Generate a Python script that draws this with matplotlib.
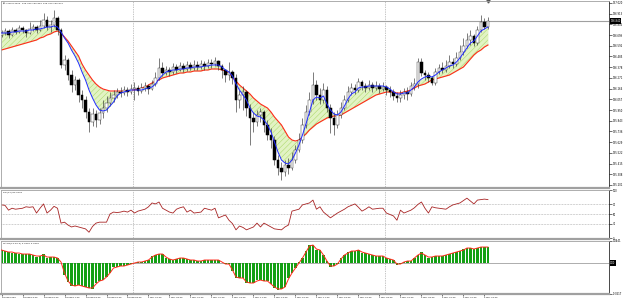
import numpy as np
import pandas as pd
import matplotlib
matplotlib.use("Agg")
import matplotlib.pyplot as plt
from matplotlib.transforms import blended_transform_factory

## USDJPY 20-minute chart with two MAs, RSI(14) and MACD(12,26,9)
symbol = "USDJPY,M20"
start = "2023-02-28 11:20"

opens = [136.70,136.72,136.74,136.70,136.75,136.73,136.77,136.75,136.72,136.76,
         136.78,136.75,136.79,136.85,136.78,136.80,136.87,136.75,136.40,136.45,
         136.30,136.20,136.25,136.10,136.05,135.93,135.83,135.91,135.85,135.92,
         135.97,136.02,136.07,136.10,136.13,136.12,136.15,136.13,136.16,136.17,
         136.14,136.17,136.19,136.16,136.21,136.27,136.37,136.32,136.35,136.33,
         136.38,136.35,136.39,136.36,136.40,136.37,136.40,136.38,136.41,136.39,
         136.42,136.41,136.44,136.39,136.35,136.30,136.33,136.27,136.05,136.10,
         136.13,135.97,135.87,135.83,135.90,135.93,135.80,135.70,135.65,135.45,
         135.37,135.33,135.40,135.37,135.45,135.55,135.65,135.80,135.93,136.05,
         136.20,136.10,136.05,136.15,135.97,135.87,135.80,135.90,135.97,136.05,
         136.13,136.17,136.15,136.23,136.19,136.17,136.20,136.17,136.19,136.16,
         136.18,136.15,136.13,136.09,136.07,136.10,136.13,136.11,136.19,136.21,
         136.43,136.32,136.30,136.27,136.22,136.33,136.37,136.35,136.39,136.43,
         136.41,136.47,136.53,136.59,136.65,136.69,136.62,136.75,136.83,136.78]
highs = [136.75,136.77,136.76,136.78,136.77,136.80,136.79,136.76,136.83,136.81,
         136.80,136.85,136.92,136.89,136.85,136.95,136.89,136.77,136.50,136.47,
         136.35,136.29,136.27,136.15,136.09,135.97,135.97,135.95,135.97,136.05,
         136.09,136.13,136.15,136.17,136.18,136.19,136.18,136.21,136.23,136.20,
         136.22,136.23,136.21,136.25,136.33,136.47,136.43,136.39,136.38,136.42,
         136.41,136.43,136.42,136.44,136.43,136.45,136.44,136.45,136.44,136.46,
         136.46,136.48,136.45,136.41,136.36,136.43,136.35,136.31,136.15,136.19,
         136.15,136.01,135.93,135.95,135.97,135.95,135.85,135.77,135.69,135.50,
         135.43,135.45,135.47,135.53,135.60,135.72,135.87,136.00,136.13,136.33,
         136.25,136.17,136.22,136.19,136.01,135.93,135.95,136.03,136.10,136.19,
         136.22,136.21,136.27,136.25,136.22,136.25,136.23,136.24,136.22,136.23,
         136.20,136.19,136.16,136.13,136.15,136.17,136.18,136.23,136.27,136.47,
         136.47,136.35,136.33,136.29,136.37,136.41,136.43,136.45,136.50,136.47,
         136.53,136.60,136.67,136.72,136.75,136.71,136.79,136.90,136.87,136.88]
lows = [136.68,136.70,136.67,136.69,136.71,136.72,136.72,136.68,136.71,136.74,
        136.72,136.74,136.77,136.75,136.73,136.78,136.70,136.37,136.35,136.25,
        136.13,136.15,136.03,135.97,135.87,135.73,135.79,135.78,135.81,135.87,
        135.93,135.99,136.03,136.07,136.08,136.10,136.09,136.11,136.05,136.10,
        136.12,136.14,136.11,136.15,136.19,136.25,136.29,136.30,136.29,136.31,
        136.32,136.34,136.33,136.34,136.35,136.35,136.35,136.36,136.35,136.37,
        136.37,136.39,136.35,136.27,136.23,136.25,136.21,135.93,135.97,135.95,
        135.89,135.60,135.73,135.79,135.83,135.73,135.65,135.57,135.40,135.30,
        135.25,135.29,135.31,135.35,135.42,135.53,135.62,135.77,135.90,136.01,
        136.05,136.01,136.02,135.93,135.72,135.70,135.77,135.87,135.95,136.03,
        136.10,136.11,136.13,136.15,136.13,136.15,136.13,136.15,136.12,136.14,
        136.10,136.08,136.05,136.03,136.03,136.06,136.05,136.09,136.15,136.17,
        136.29,136.25,136.23,136.20,136.20,136.31,136.32,136.33,136.37,136.37,
        136.39,136.45,136.50,136.57,136.60,136.59,136.60,136.73,136.76,136.76]
closes = [136.72,136.74,136.70,136.75,136.73,136.77,136.75,136.72,136.76,136.78,
          136.75,136.79,136.85,136.78,136.80,136.87,136.75,136.40,136.45,136.30,
          136.20,136.25,136.10,136.05,135.93,135.83,135.91,135.85,135.92,135.97,
          136.02,136.07,136.10,136.13,136.12,136.15,136.13,136.16,136.17,136.14,
          136.17,136.19,136.16,136.21,136.27,136.37,136.32,136.35,136.33,136.38,
          136.35,136.39,136.36,136.40,136.37,136.40,136.38,136.41,136.39,136.42,
          136.41,136.44,136.39,136.35,136.30,136.33,136.27,136.05,136.10,136.13,
          135.97,135.87,135.83,135.90,135.93,135.80,135.70,135.65,135.45,135.37,
          135.33,135.40,135.37,135.45,135.55,135.65,135.80,135.93,136.05,136.20,
          136.10,136.05,136.15,135.97,135.87,135.80,135.90,135.97,136.05,136.13,
          136.17,136.15,136.23,136.19,136.17,136.20,136.17,136.19,136.16,136.18,
          136.15,136.13,136.09,136.07,136.10,136.13,136.11,136.19,136.21,136.43,
          136.32,136.30,136.27,136.22,136.33,136.37,136.35,136.39,136.43,136.41,
          136.47,136.53,136.59,136.65,136.69,136.62,136.75,136.83,136.78,136.84]

# fast MA (blue) and slow MA (red)
ma_fast = [136.72,136.72,136.72,136.73,136.73,136.74,136.74,136.74,136.75,136.75,
           136.76,136.76,136.77,136.78,136.78,136.79,136.78,136.73,136.67,136.62,
           136.55,136.49,136.42,136.33,136.25,136.15,136.07,136.00,135.95,135.94,
           135.95,135.99,136.03,136.09,136.12,136.13,136.14,136.15,136.15,136.15,
           136.15,136.16,136.17,136.18,136.21,136.26,136.30,136.33,136.34,136.35,
           136.35,136.36,136.36,136.37,136.37,136.38,136.38,136.38,136.39,136.39,
           136.40,136.40,136.40,136.38,136.35,136.33,136.29,136.21,136.15,136.10,
           136.05,135.97,135.92,135.89,135.88,135.85,135.80,135.73,135.63,135.53,
           135.45,135.42,135.41,135.45,135.52,135.60,135.70,135.81,135.93,136.05,
           136.08,136.07,136.09,136.01,135.95,135.91,135.90,135.93,135.99,136.06,
           136.11,136.13,136.17,136.18,136.18,136.19,136.19,136.19,136.19,136.19,
           136.18,136.16,136.13,136.11,136.11,136.12,136.12,136.15,136.18,136.23,
           136.26,136.28,136.29,136.28,136.30,136.33,136.35,136.37,136.39,136.40,
           136.43,136.47,136.52,136.57,136.62,136.64,136.69,136.74,136.76,136.78]
ma_slow = [136.55,136.56,136.57,136.58,136.59,136.60,136.61,136.62,136.63,136.64,
           136.65,136.67,136.68,136.70,136.71,136.73,136.74,136.72,136.68,136.64,
           136.59,136.54,136.49,136.41,136.35,136.30,136.25,136.21,136.18,136.16,
           136.15,136.14,136.14,136.14,136.14,136.14,136.14,136.15,136.15,136.16,
           136.17,136.18,136.20,136.22,136.24,136.25,136.27,136.28,136.29,136.30,
           136.31,136.32,136.32,136.33,136.33,136.34,136.34,136.34,136.35,136.35,
           136.36,136.36,136.36,136.35,136.34,136.32,136.28,136.24,136.20,136.17,
           136.14,136.11,136.07,136.04,136.01,135.99,135.97,135.93,135.88,135.84,
           135.80,135.74,135.68,135.65,135.64,135.65,135.68,135.71,135.75,135.78,
           135.81,135.83,135.85,135.87,135.88,135.89,135.89,135.90,135.92,135.94,
           135.96,135.98,136.00,136.02,136.04,136.06,136.08,136.10,136.11,136.12,
           136.13,136.13,136.13,136.12,136.12,136.13,136.14,136.15,136.17,136.19,
           136.20,136.21,136.23,136.25,136.26,136.27,136.28,136.29,136.30,136.32,
           136.34,136.36,136.38,136.42,136.46,136.50,136.53,136.55,136.58,136.60]

rsi = [69,68,58,62,60,61,62,65,64,65, 52,62,71,52,58,66,62,31,33,27,
       23,25,23,21,19,12,24,31,33,33, 33,50,54,53,54,56,54,58,52,56,
       58,60,65,73,71,75,62,58,54,52, 60,63,65,54,58,52,53,54,62,60,
       58,62,42,45,48,37,30,17,25,22, 17,20,23,31,23,31,27,23,19,18,
       17,23,27,56,58,60,69,71,73,79, 60,65,54,48,42,47,52,56,60,65,
       68,71,64,56,60,65,60,61,62,62, 52,49,46,37,58,52,55,58,63,70,
       75,62,52,65,63,62,61,60,65,69, 71,73,78,83,77,71,79,80,81,80]

macd_main = [0.026,0.024,0.022,0.020,0.020,0.018,0.018,0.018,0.018,0.016,
             0.012,0.014,0.018,0.010,0.012,0.012,0.010,0.000,-0.024,-0.038,
             -0.046,-0.046,-0.044,-0.046,-0.048,-0.050,-0.052,-0.040,-0.036,-0.034,
             -0.028,-0.020,-0.008,-0.008,-0.006,-0.006,-0.004,-0.002,0.000,0.002,
             0.002,0.004,0.006,0.014,0.016,0.018,0.018,0.010,0.008,0.006,
             0.008,0.010,0.010,0.008,0.006,0.006,0.004,0.004,0.006,0.006,
             0.006,0.006,0.006,0.000,-0.002,-0.002,-0.016,-0.030,-0.030,-0.030,
             -0.040,-0.040,-0.040,-0.034,-0.034,-0.036,-0.036,-0.042,-0.050,-0.054,
             -0.052,-0.048,-0.030,-0.020,-0.010,0.002,0.010,0.024,0.036,0.036,
             0.026,0.026,0.016,0.004,-0.008,-0.006,-0.002,0.010,0.016,0.022,
             0.024,0.024,0.026,0.020,0.020,0.018,0.016,0.014,0.014,0.014,
             0.010,0.008,0.006,-0.004,-0.002,0.002,0.004,0.004,0.010,0.016,
             0.022,0.016,0.010,0.012,0.014,0.014,0.014,0.016,0.018,0.020,
             0.022,0.024,0.028,0.030,0.030,0.028,0.030,0.032,0.032,0.032]
macd_signal = [0.026,0.024,0.022,0.022,0.020,0.020,0.018,0.018,0.018,0.016,
               0.014,0.014,0.016,0.012,0.012,0.012,0.010,0.002,-0.020,-0.036,
               -0.044,-0.046,-0.044,-0.046,-0.048,-0.050,-0.050,-0.042,-0.036,-0.034,
               -0.028,-0.020,-0.010,-0.008,-0.006,-0.006,-0.004,-0.002,0.000,0.002,
               0.002,0.004,0.006,0.012,0.016,0.018,0.018,0.012,0.008,0.006,
               0.008,0.010,0.010,0.008,0.006,0.006,0.004,0.004,0.006,0.006,
               0.006,0.006,0.006,0.002,-0.002,-0.002,-0.014,-0.028,-0.030,-0.030,
               -0.038,-0.040,-0.040,-0.036,-0.034,-0.036,-0.036,-0.042,-0.048,-0.052,
               -0.052,-0.048,-0.032,-0.020,-0.010,0.000,0.010,0.022,0.034,0.036,
               0.028,0.026,0.016,0.004,-0.006,-0.006,-0.002,0.008,0.016,0.020,
               0.024,0.024,0.026,0.022,0.020,0.018,0.016,0.014,0.014,0.014,
               0.010,0.008,0.006,-0.002,-0.002,0.002,0.004,0.004,0.010,0.016,
               0.020,0.016,0.012,0.012,0.014,0.014,0.014,0.016,0.018,0.020,
               0.022,0.024,0.026,0.030,0.030,0.028,0.030,0.032,0.032,0.032]

price_ticks = [137.020,136.913,136.806,136.699,136.592,136.485,136.378,136.271,136.164,
               136.057,135.950,135.843,135.736,135.629,135.522,135.415,135.308,135.201]
rsi_levels = [70, 50, 30]
rsi_ticks = [100, 70, 50, 30, 0]
macd_ticks = [0.0441, -0.0617]
time_labels = ["28 Feb 2023", "28 Feb 13:20", "28 Feb 15:20", "28 Feb 17:20", "28 Feb 19:20",
               "28 Feb 21:20", "28 Feb 23:20", "1 Mar 01:20", "1 Mar 03:20", "1 Mar 05:20",
               "1 Mar 07:20", "1 Mar 09:20", "1 Mar 11:20", "1 Mar 13:20", "1 Mar 15:20",
               "1 Mar 17:20", "1 Mar 19:20", "1 Mar 21:20", "1 Mar 23:20", "2 Mar 01:20",
               "2 Mar 03:20", "2 Mar 05:20", "2 Mar 07:20", "2 Mar 09:20"]

n = len(closes)
x = np.arange(n)
times = pd.date_range(start, periods=n, freq="20min")
day_breaks = np.where(np.diff(times.day) != 0)[0] + 1

plt.rcParams["hatch.linewidth"] = 0.35
W, H = 625, 302
fig = plt.figure(figsize=(W / 100, H / 100), dpi=100)
LBL = 1.8  # right-scale label size


def panel(top, bottom, left=1, right=609):
    return fig.add_axes([left / W, 1 - bottom / H, (right - left) / W, (bottom - top) / H])


ax = panel(0.5, 188)
ax_rsi = panel(190, 239)
ax_macd = panel(241, 294)

for a in (ax, ax_rsi, ax_macd):
    a.set_xlim(-0.15, 173.6)
    for s in ("left", "top", "bottom"):
        a.spines[s].set_color("#a0a0a0")
        a.spines[s].set_linewidth(0.6)
    a.spines["bottom"].set_linewidth(1.6)
    a.spines["right"].set_color("black")
    a.spines["right"].set_linewidth(0.5)
    a.yaxis.tick_right()
    a.tick_params(axis="y", direction="out", length=1.8, width=0.4, labelsize=LBL, pad=0.8)
    a.tick_params(axis="x", bottom=False, labelbottom=False)
    for d in day_breaks:
        a.axvline(d - 0.5, color="#8c8c8c", lw=0.5, ls=(0, (1, 1.5)), zorder=0)

# ---- price panel
ax.set_ylim(135.17, 137.045)
ax.set_yticks(price_ticks)
ax.set_yticklabels([f"{t:.3f}" for t in price_ticks])
ax.fill_between(x, ma_fast, ma_slow, color="#e2f3c4", lw=0, zorder=1)
ax.fill_between(x, ma_fast, ma_slow, facecolor="none", edgecolor="#a9d864",
                hatch="//////", lw=0, zorder=1)
ax.plot(x, ma_slow, color="#ff2a1a", lw=0.8, zorder=2)
ax.plot(x, ma_fast, color="#1f2bff", lw=0.7, zorder=4)

op = np.array(opens)
cl = np.array(closes)
ax.vlines(x, lows, highs, color="#333333", lw=0.45, zorder=3)
up = cl >= op
body = np.where(np.abs(cl - op) < 0.003, 0.003, cl - op)
ax.bar(x[up], body[up], bottom=op[up], width=0.62, color="white",
       edgecolor="#444444", lw=0.35, zorder=3)
ax.bar(x[~up], body[~up], bottom=op[~up], width=0.62, color="black",
       edgecolor="black", lw=0.35, zorder=3)

last = closes[-1]
ax.axhline(last, color="#a0a0a0", lw=0.8, zorder=0)
tr = blended_transform_factory(ax.transAxes, ax.transData)
ax.text(1.002, last, f"{last:.3f}", transform=tr, fontsize=LBL, color="white",
        va="center", ha="left", bbox=dict(facecolor="black", edgecolor="none", pad=0.5))
ax.plot([n - 1], [1.0], marker="v", ms=2.2, color="#555555",
        transform=blended_transform_factory(ax.transData, ax.transAxes), clip_on=False)
ax.text(0.004, 0.99,
        f"\u25bc {symbol}  {opens[-1]:.3f} {highs[-1]:.3f} {lows[-1]:.3f} {closes[-1]:.3f}",
        transform=ax.transAxes, fontsize=1.7, va="top", ha="left", color="#222222")

# ---- RSI panel
ax_rsi.set_ylim(-2.08, 100)
ax_rsi.set_yticks(rsi_ticks)
ax_rsi.set_yticklabels([str(t) for t in rsi_ticks])
for lv in rsi_levels:
    ax_rsi.axhline(lv, color="#a0a0a0", lw=0.5, ls=(0, (1, 1.2)), zorder=0)
ax_rsi.plot(x, rsi, color="#a82424", lw=0.6)
ax_rsi.text(0.004, 0.97, f"RSI(14) {rsi[-1]:.4f}", transform=ax_rsi.transAxes,
            fontsize=1.7, va="top", ha="left", color="#222222")

# ---- MACD panel
ax_macd.set_ylim(-0.062, 0.044)
ax_macd.set_yticks(macd_ticks)
ax_macd.set_yticklabels([f"{t:.4f}" for t in macd_ticks])
ax_macd.axhline(0, color="#a0a0a0", lw=0.6, zorder=0)
ax_macd.bar(x, macd_main, width=0.62, color="#14a014", lw=0, zorder=2)
ax_macd.plot(x, macd_signal, color="#ff2a1a", lw=0.7, zorder=3)
trm = blended_transform_factory(ax_macd.transAxes, ax_macd.transData)
ax_macd.text(1.002, 0, "0.00", transform=trm, fontsize=LBL, color="white",
             va="center", ha="left", bbox=dict(facecolor="black", edgecolor="none", pad=0.5))
ax_macd.text(0.004, 0.97, f"MACD(12,26,9) {macd_main[-1]:.4f} {macd_signal[-1]:.4f}",
             transform=ax_macd.transAxes, fontsize=1.7, va="top", ha="left", color="#222222")

ax_macd.tick_params(axis="x", bottom=True, labelbottom=True, direction="out",
                    length=1.5, width=0.4, labelsize=1.6, pad=0.8)
ax_macd.set_xticks(x[::6])
ax_macd.set_xticklabels(time_labels, ha="left")

fig.savefig("out.png", dpi=100)
